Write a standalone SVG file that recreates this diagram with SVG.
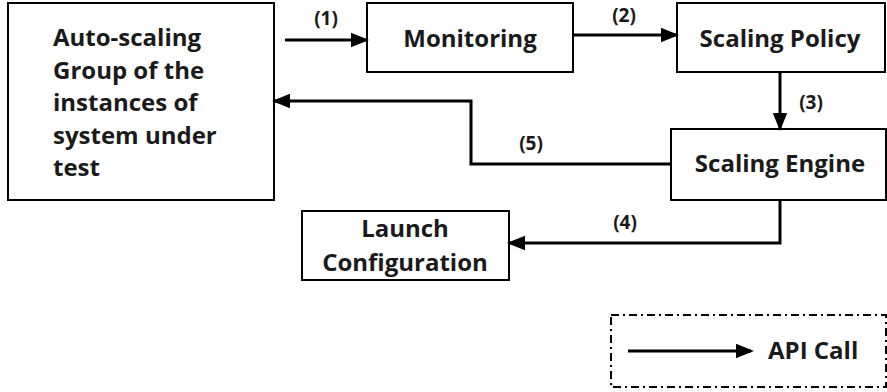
<svg xmlns="http://www.w3.org/2000/svg" width="887" height="392" viewBox="0 0 887 392">
<defs>
<style>
.box{fill:#fff;stroke:#000;stroke-width:2}
.t{font-family:"Open Sans","Noto Sans","Liberation Sans",sans-serif;font-weight:bold;font-size:24px;fill:#1a1a1a}
.c{text-anchor:middle}
.lbl{font-family:"Open Sans","Noto Sans","Liberation Sans",sans-serif;font-weight:bold;font-size:19px;fill:#1a1a1a;text-anchor:middle}
.conn{fill:none;stroke:#000;stroke-width:3;marker-end:url(#ah)}
</style>
<marker id="ah" markerWidth="6" markerHeight="6" refX="5" refY="3" orient="auto" markerUnits="strokeWidth">
<path d="M0,0.6 L6,3 L0,5.4 Z" fill="#000"/>
</marker>
</defs>
<rect width="887" height="392" fill="#fff"/>
<g id="asg">
<rect class="box" x="8" y="3" width="266" height="197"/>
<text class="t" x="53" y="46">Auto-scaling</text>
<text class="t" x="53" y="79">Group of the</text>
<text class="t" x="53" y="111">instances of</text>
<text class="t" x="53" y="144">system under</text>
<text class="t" x="53" y="176">test</text>
</g>
<g id="monitoring">
<rect class="box" x="367" y="3" width="206" height="69"/>
<text class="t c" x="470" y="47">Monitoring</text>
</g>
<g id="policy">
<rect class="box" x="677" y="3" width="208" height="69"/>
<text class="t c" x="780" y="47">Scaling Policy</text>
</g>
<g id="engine">
<rect class="box" x="671" y="129" width="215" height="71"/>
<text class="t c" x="780" y="172">Scaling Engine</text>
</g>
<g id="launch">
<rect class="box" x="302" y="211" width="207" height="69"/>
<text class="t c" x="405" y="237">Launch</text>
<text class="t c" x="405" y="271">Configuration</text>
</g>
<g id="connectors">
<path class="conn" d="M285,40 H366"/>
<text class="lbl" x="326" y="25">(1)</text>
<path class="conn" d="M573,35 H676"/>
<text class="lbl" x="624" y="22">(2)</text>
<path class="conn" d="M780,72 V128"/>
<text class="lbl" x="811" y="109">(3)</text>
<path class="conn" d="M780,200 V243 H510"/>
<text class="lbl" x="625" y="229">(4)</text>
<path class="conn" d="M671,164 H471 V101 H275"/>
<text class="lbl" x="531" y="150">(5)</text>
</g>
<g id="legend">
<rect x="611" y="315" width="275" height="72" fill="none" stroke="#000" stroke-width="2" stroke-dasharray="8 4 2 4"/>
<path class="conn" d="M628,351 H751"/>
<text class="t" x="768" y="359">API Call</text>
</g>
</svg>
